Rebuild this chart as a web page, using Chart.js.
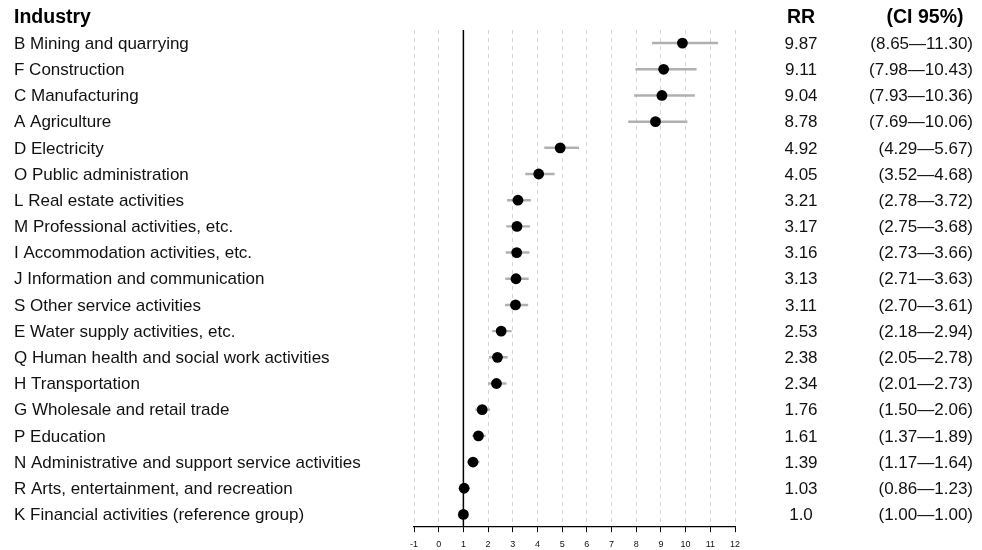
<!DOCTYPE html>
<html>
<head>
<meta charset="utf-8">
<script src="https://cdn.jsdelivr.net/npm/chart.js@4"></script>
<style>
  body { margin: 0; background: #fff; }
  #wrap { width: 982px; height: 550px; position: relative; }
</style>
</head>
<body>
<div id="wrap"><canvas id="forest"></canvas></div>
<script>
const industries = [
  'B Mining and quarrying', 'F Construction', 'C Manufacturing', 'A Agriculture',
  'D Electricity', 'O Public administration', 'L Real estate activities',
  'M Professional activities, etc.', 'I Accommodation activities, etc.',
  'J Information and communication', 'S Other service activities',
  'E Water supply activities, etc.', 'Q Human health and social work activities',
  'H Transportation', 'G Wholesale and retail trade', 'P Education',
  'N Administrative and support service activities',
  'R Arts, entertainment, and recreation', 'K Financial activities (reference group)'
];
const rr = [9.87, 9.11, 9.04, 8.78, 4.92, 4.05, 3.21, 3.17, 3.16, 3.13, 3.11, 2.53, 2.38, 2.34, 1.76, 1.61, 1.39, 1.03, 1.0];
const ciLow = [8.65, 7.98, 7.93, 7.69, 4.29, 3.52, 2.78, 2.75, 2.73, 2.71, 2.70, 2.18, 2.05, 2.01, 1.50, 1.37, 1.17, 0.86, 1.00];
const ciHigh = [11.30, 10.43, 10.36, 10.06, 5.67, 4.68, 3.72, 3.68, 3.66, 3.63, 3.61, 2.94, 2.78, 2.73, 2.06, 1.89, 1.64, 1.23, 1.00];
const xMin = -1, xMax = 12;
const refValue = 1;

const FONT = '"Liberation Sans", Arial, sans-serif';

// vertical line at RR = 1
const refLine = {
  id: 'refLine',
  beforeDatasetsDraw(chart) {
    const {ctx, chartArea, scales} = chart;
    const x = scales.x.getPixelForValue(refValue);
    ctx.save();
    ctx.strokeStyle = '#000';
    ctx.lineWidth = 1.5;
    ctx.beginPath();
    ctx.moveTo(x, chartArea.top);
    ctx.lineTo(x, chartArea.bottom);
    ctx.stroke();
    ctx.restore();
  }
};

// table columns: industry name, RR and CI text
const tableText = {
  id: 'tableText',
  afterDraw(chart) {
    const {ctx, scales} = chart;
    const y = scales.y;
    ctx.save();
    ctx.fillStyle = '#000';
    ctx.textBaseline = 'middle';

    const hy = y.getPixelForValue(-1) + 1;
    ctx.font = 'bold 19.5px ' + FONT;
    ctx.textAlign = 'left';
    ctx.fillText('Industry', 14, hy);
    ctx.textAlign = 'center';
    ctx.fillText('RR', 801, hy);
    ctx.fillText('(CI 95%)', 925, hy);

    ctx.font = '17px ' + FONT;
    ctx.fillStyle = '#111';
    industries.forEach((name, i) => {
      const py = y.getPixelForValue(i) + 1;
      ctx.textAlign = 'left';
      ctx.fillText(name, 14, py);
      ctx.textAlign = 'center';
      ctx.fillText(rr[i] === 1 ? '1.0' : rr[i].toFixed(2), 801, py);
      ctx.textAlign = 'right';
      ctx.fillText('(' + ciLow[i].toFixed(2) + '\u2014' + ciHigh[i].toFixed(2) + ')', 973, py);
    });
    ctx.restore();
  }
};

new Chart(document.getElementById('forest'), {
  type: 'bar',
  data: {
    datasets: [
      {
        type: 'scatter',
        order: 1,
        data: rr.map((v, i) => ({x: v, y: i})),
        pointRadius: 5.4,
        pointBackgroundColor: '#000',
        pointBorderColor: '#000',
        pointBorderWidth: 0
      },
      {
        type: 'bar',
        order: 2,
        data: ciLow.map((lo, i) => ({x: [lo, ciHigh[i]], y: i})),
        backgroundColor: '#b0b0b0',
        borderWidth: 0,
        barThickness: 1.8
      }
    ]
  },
  options: {
    indexAxis: 'y',
    responsive: true,
    maintainAspectRatio: false,
    animation: false,
    layout: { padding: { left: 414, right: 247, top: 30, bottom: -7 } },
    plugins: { legend: { display: false }, tooltip: { enabled: false } },
    scales: {
      x: {
        type: 'linear',
        min: xMin,
        max: xMax,
        offset: false,
        ticks: {
          stepSize: 1,
          color: '#111',
          font: { family: FONT, size: 9 },
          padding: 7,
          maxRotation: 0
        },
        grid: {
          color: '#d4d4d4',
          lineWidth: 1,
          tickColor: '#000',
          tickLength: 6
        },
        border: { display: true, color: '#000', width: 1.2, dash: [4, 4] }
      },
      y: {
        type: 'linear',
        min: -0.5,
        max: 18.45,
        reverse: true,
        offset: false,
        grace: 0,
        display: false
      }
    }
  },
  plugins: [refLine, tableText]
});
</script>
</body>
</html>
